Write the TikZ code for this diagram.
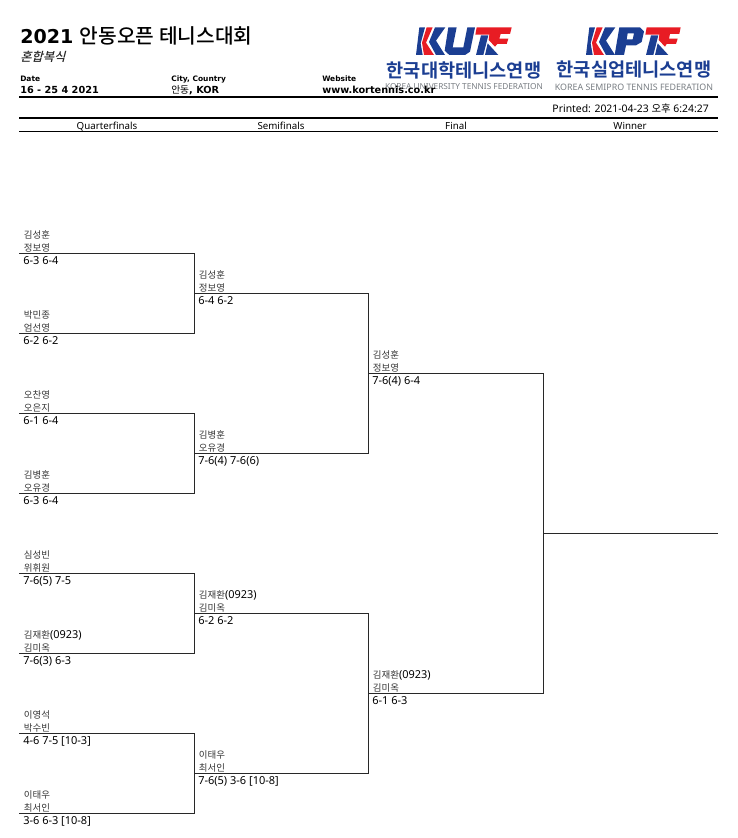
\documentclass[tikz,border=0pt]{standalone}
\usepackage{fontspec}
\usepackage{xcolor}
\usetikzlibrary{positioning,calc}
\setmainfont{Noto Sans}
\newfontfamily\krfont{Noto Sans CJK KR}
\newfontfamily\krmedium{Noto Sans CJK KR Medium}
\newfontfamily\krbold{Noto Sans CJK KR Bold}
\newfontfamily\krslant[FakeSlant=0.25]{Noto Sans CJK KR Medium}
\newfontfamily\headfont{DejaVu Sans Bold}
\newcommand{\seedno}[1]{{\rmfamily\fontsize{8.2}{9.7}\selectfont\textcolor{black}{#1}}}
\definecolor{logoblue}{RGB}{27,62,146}
\definecolor{logored}{RGB}{232,28,36}
\definecolor{logogray}{RGB}{120,125,130}
\definecolor{rulegray}{RGB}{40,40,40}
\definecolor{namegray}{RGB}{55,55,55}

\begin{document}
\begin{tikzpicture}[x=0.75pt,y=-0.75pt,
    names/.style={anchor=south west, inner sep=0pt, xshift=3.5pt, yshift=0.6pt, align=left, font=\krfont\fontsize{7.1}{9.7}\selectfont, text=namegray},
    score/.style={anchor=north west, inner sep=0pt, xshift=3pt, yshift=-2.6pt, font=\fontsize{8.25}{9}\selectfont},
    round/.style={anchor=base, inner sep=0pt, font=\fontsize{7.3}{9}\selectfont},
    small/.style={anchor=base west, inner sep=0pt, font=\headfont\fontsize{5.6}{7}\selectfont},
    info/.style={anchor=base west, inner sep=0pt, font=\headfont\fontsize{7.3}{9}\selectfont},
    bracket/.style={draw=rulegray, line width=0.75pt},
    headrule/.style={draw=black, line width=1.1pt},
    thinrule/.style={draw=black, line width=0.7pt},
    logoname/.style={anchor=center, inner sep=0pt, text=logoblue, font=\krbold\fontsize{14}{14}\selectfont},
    logoeng/.style={anchor=center, inner sep=0pt, text=logogray, font=\fontsize{6.2}{7}\selectfont},
    logomark/.style={x=0.25pt, y=-0.25pt}]
    \useasboundingbox (0,0) rectangle (738,838);

    % header
    \node[anchor=base west, inner sep=0pt, font=\headfont\fontsize{14.3}{16}\selectfont] (title) at (20,44) {2021 {\krmedium\fontsize{15.2}{16}\selectfont 안동오픈 테니스대회}};
    \node[anchor=base west, inner sep=0pt, font=\krslant\fontsize{9.2}{9}\selectfont, text=black!85] (event) at (20,62) {혼합복식};
    \node[small] (datelabel) at (20,82) {Date};
    \node[info] (date) at (20,94) {16 - 25 4 2021};
    \node[small] (citylabel) at (171,82) {City, Country};
    \node[info] (city) at (171,94) {{\krfont 안동}, KOR};
    \node[small] (weblabel) at (322,82) {Website};

    % logos
    \begin{scope}[shift={(380,20)}, logomark]
        \fill[logoblue] (118,22) -- (135,22) -- (122,70) -- (128,105) -- (108,105) -- cycle;
        \fill[logored] (140,22) -- (158,22) -- (138,68) -- (162,105) -- (132,105) -- (126,68) -- cycle;
        \fill[logoblue] (165,22) -- (196,22) -- (168,62) -- (195,105) -- (168,105) -- (147,66) -- cycle;
        \fill[logoblue] (205,22) -- (230,22) -- (218,82) -- (250,82) -- (262,22) -- (285,22) -- (270,95) -- (255,105) -- (208,105) -- (194,92) -- cycle;
        \fill[logored] (290,22) -- (395,22) -- (390,42) -- (362,42) -- (358,56) -- (385,56) -- (380,72) -- (352,72) -- (345,80) -- (326,60) -- (328,44) -- (286,44) -- cycle;
        \fill[logoblue] (303,46) -- (325,46) -- (310,105) -- (288,105) -- cycle;
        \fill[logoblue] (323,70) -- (355,105) -- (315,105) -- cycle;
    \end{scope}
    \begin{scope}[shift={(550,20)}, logomark]
        \fill[logoblue] (118,22) -- (135,22) -- (122,70) -- (128,105) -- (108,105) -- cycle;
        \fill[logored] (140,22) -- (158,22) -- (138,68) -- (162,105) -- (132,105) -- (126,68) -- cycle;
        \fill[logoblue] (165,22) -- (196,22) -- (168,62) -- (195,105) -- (168,105) -- (147,66) -- cycle;
        \fill[logoblue, even odd rule] (208,22) -- (270,22) -- (282,34) -- (275,66) -- (258,76) -- (228,76) -- (222,105) -- (194,105) -- cycle (233,40) -- (230,58) -- (248,58) -- (252,40) -- cycle;
        \fill[logored] (290,22) -- (392,22) -- (388,42) -- (360,42) -- (357,56) -- (383,56) -- (378,72) -- (350,72) -- (345,80) -- (326,60) -- (328,44) -- (286,44) -- cycle;
        \fill[logoblue] (303,46) -- (325,46) -- (310,105) -- (288,105) -- cycle;
        \fill[logoblue] (323,70) -- (355,105) -- (315,105) -- cycle;
    \end{scope}
    \node[logoname] (kutfname) at (464,70) {한국대학테니스연맹};
    \node[logoname] (kptfname) at (634,70) {한국실업테니스연맹};
    \node[logoeng] (kutfeng) at (464,87) {KOREA UNIVERSITY TENNIS FEDERATION};
    \node[logoeng, font=\fontsize{6.65}{7}\selectfont] (kptfeng) at (634,87) {KOREA SEMIPRO TENNIS FEDERATION};
    \node[info] (web) at (322,94) {www.kortennis.co.kr};

    \coordinate (topa) at (19,97);
    \coordinate (topb) at (718,97);
    \coordinate (mida) at (19,118);
    \coordinate (midb) at (718,118);
    \coordinate (lowa) at (19,131);
    \coordinate (lowb) at (718,131);
    \draw[headrule] (topa) -- (topb);
    \draw[headrule] (mida) -- (midb);
    \draw[thinrule] (lowa) -- (lowb);
    \node[anchor=base east, inner sep=0pt, font=\fontsize{7.8}{9}\selectfont] (printed) at (709,113) {Printed: 2021-04-23 {\krfont 오후} 6:24:27};
    \node[round] (quarter) at (107,130) {Quarterfinals};
    \node[round] (semi) at (281,130) {Semifinals};
    \node[round] (final) at (456,130) {Final};
    \node[round] (winner) at (630,130) {Winner};

    % slots
    \coordinate (qa) at (19,253);
    \coordinate (qb) at (19,333);
    \coordinate (qc) at (19,413);
    \coordinate (qd) at (19,493);
    \coordinate (qe) at (19,573);
    \coordinate (qf) at (19,653);
    \coordinate (qg) at (19,733);
    \coordinate (qh) at (19,813);
    \coordinate (sa) at (194,293);
    \coordinate (sb) at (194,453);
    \coordinate (sc) at (194,613);
    \coordinate (sd) at (194,773);
    \coordinate (fa) at (368,373);
    \coordinate (fb) at (368,693);
    \coordinate (wa) at (543,533);
    \coordinate (wb) at (718,533);

    % quarterfinals
    \node[names] (qanames) at (qa) {김성훈\\정보영};
    \node[score] (qascore) at (qa) {6-3 6-4};
    \node[names] (qbnames) at (qb) {박민종\\엄선영};
    \node[score] (qbscore) at (qb) {6-2 6-2};
    \node[names] (qcnames) at (qc) {오찬영\\오은지};
    \node[score] (qcscore) at (qc) {6-1 6-4};
    \node[names] (qdnames) at (qd) {김병훈\\오유경};
    \node[score] (qdscore) at (qd) {6-3 6-4};
    \node[names] (qenames) at (qe) {심성빈\\위휘원};
    \node[score] (qescore) at (qe) {7-6(5) 7-5};
    \node[names] (qfnames) at (qf) {김재환\seedno{(0923)}\\김미옥};
    \node[score] (qfscore) at (qf) {7-6(3) 6-3};
    \node[names] (qgnames) at (qg) {이영석\\박수빈};
    \node[score] (qgscore) at (qg) {4-6 7-5 [10-3]};
    \node[names] (qhnames) at (qh) {이태우\\최서인};
    \node[score] (qhscore) at (qh) {3-6 6-3 [10-8]};

    % semifinals
    \node[names] (sanames) at (sa) {김성훈\\정보영};
    \node[score] (sascore) at (sa) {6-4 6-2};
    \node[names] (sbnames) at (sb) {김병훈\\오유경};
    \node[score] (sbscore) at (sb) {7-6(4) 7-6(6)};
    \node[names] (scnames) at (sc) {김재환\seedno{(0923)}\\김미옥};
    \node[score] (scscore) at (sc) {6-2 6-2};
    \node[names] (sdnames) at (sd) {이태우\\최서인};
    \node[score] (sdscore) at (sd) {7-6(5) 3-6 [10-8]};

    % final
    \node[names] (fanames) at (fa) {김성훈\\정보영};
    \node[score] (fascore) at (fa) {7-6(4) 6-4};
    \node[names] (fbnames) at (fb) {김재환\seedno{(0923)}\\김미옥};
    \node[score] (fbscore) at (fb) {6-1 6-3};

    % brackets
    \draw[bracket] (qa) -- (qa -| sa) -- (qb -| sa) -- (qb);
    \draw[bracket] (qc) -- (qc -| sb) -- (qd -| sb) -- (qd);
    \draw[bracket] (qe) -- (qe -| sc) -- (qf -| sc) -- (qf);
    \draw[bracket] (qg) -- (qg -| sd) -- (qh -| sd) -- (qh);
    \draw[bracket] (sa) -- (sa -| fa) -- (sb -| fa) -- (sb);
    \draw[bracket] (sc) -- (sc -| fb) -- (sd -| fb) -- (sd);
    \draw[bracket] (fa) -- (fa -| wa) -- (fb -| wa) -- (fb);
    \draw[bracket] (wa) -- (wb);
\end{tikzpicture}
\end{document}
